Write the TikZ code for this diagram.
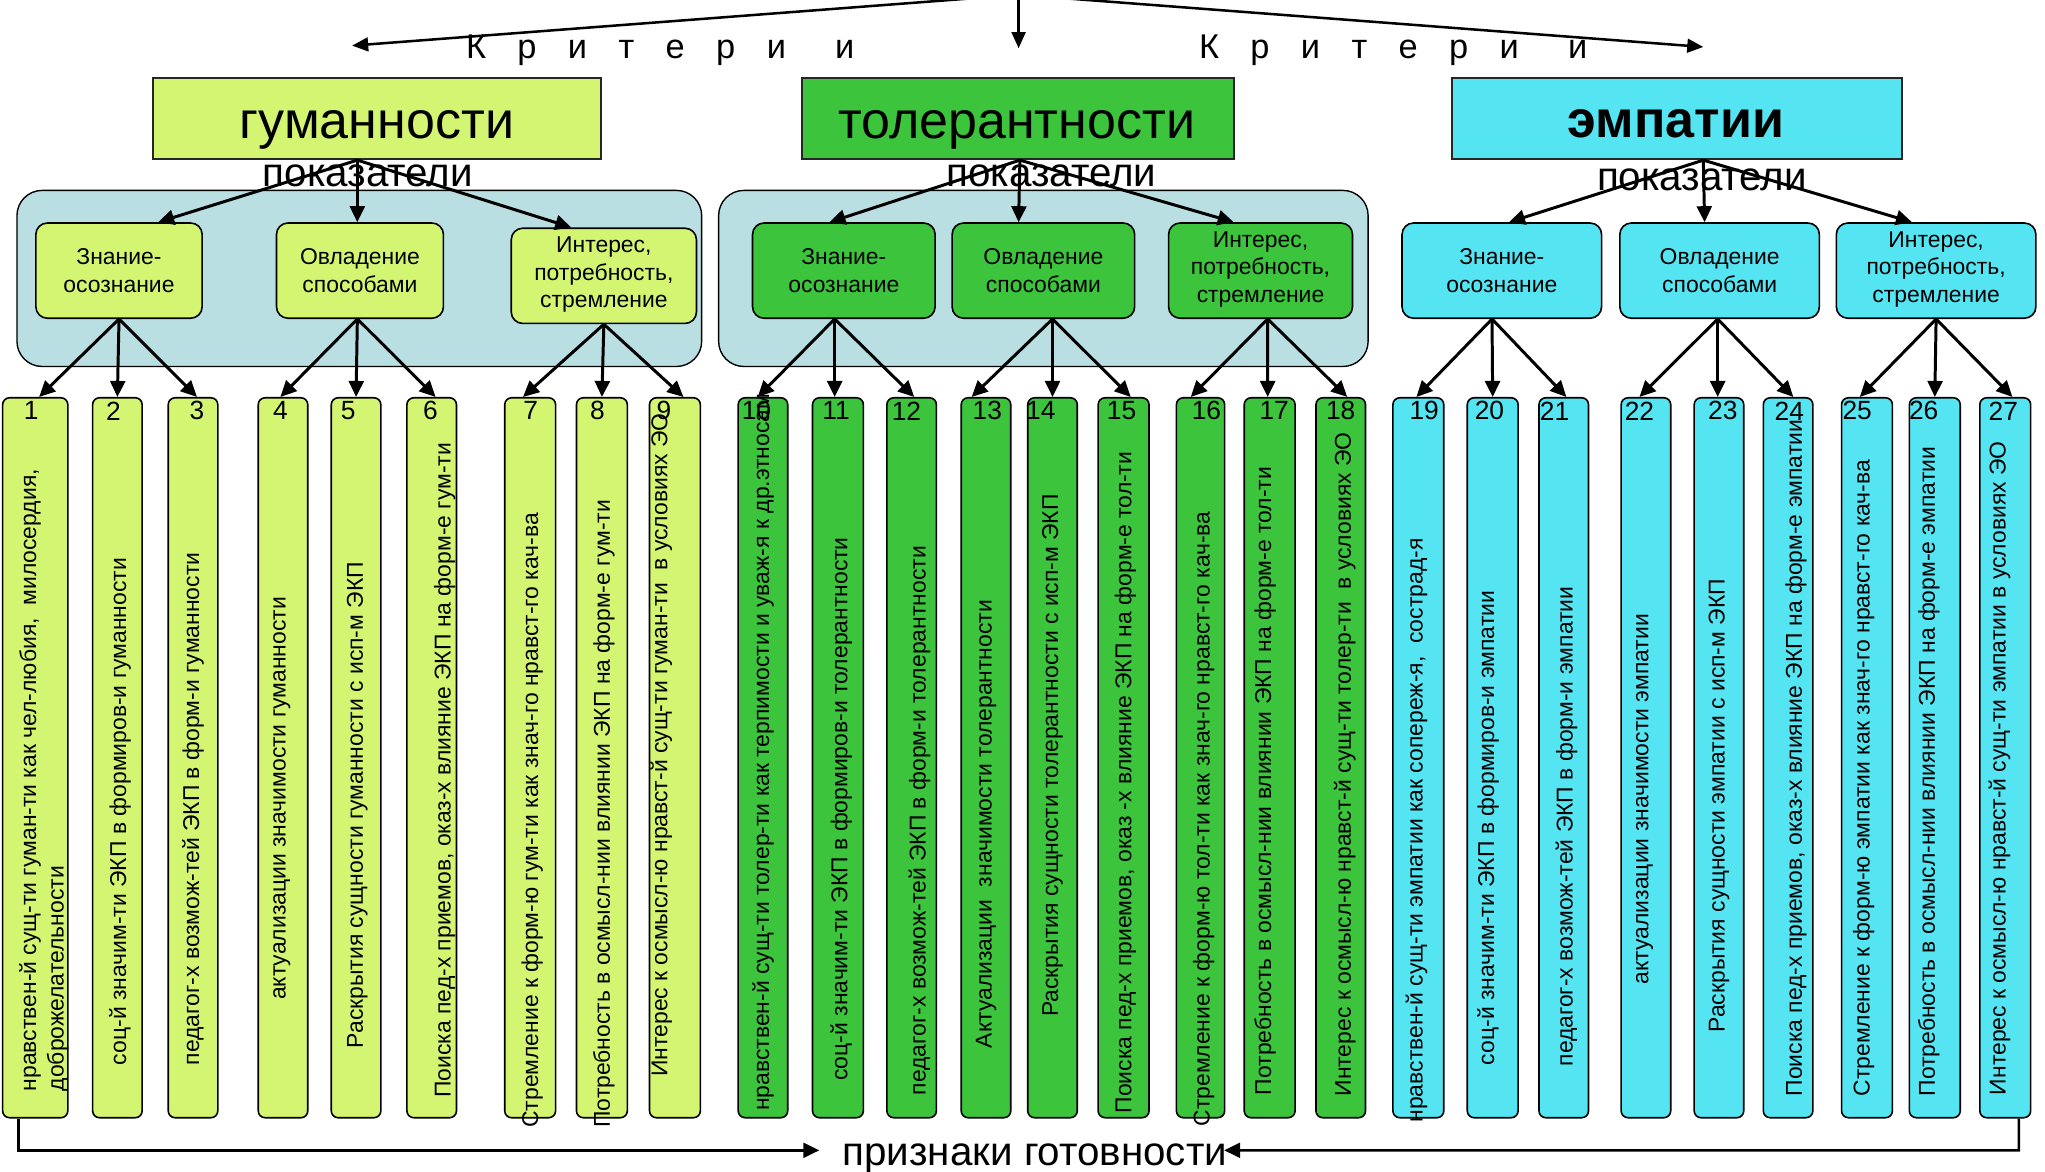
\documentclass[tikz,border=0pt]{standalone}
\usepackage{fontspec}
\setmainfont{Liberation Sans}
\usetikzlibrary{arrows.meta,calc,fit}
\definecolor{cA}{HTML}{D4F572}
\definecolor{cB}{HTML}{3CC43C}
\definecolor{cC}{HTML}{55E5F2}
\definecolor{panelC}{HTML}{B9DFE3}
\tikzset{
  crit/.style={draw=black!85, line width=0.9pt, inner sep=0},
  crittxt/.style={anchor=base, inner sep=0, font=\fontsize{22.7}{26}\selectfont},
  pokaz/.style={anchor=base, inner sep=0, font=\fontsize{17.6}{20}\selectfont},
  panel/.style={draw=black, line width=0.6pt, fill=panelC, rounded corners=11pt, inner sep=0},
  kbox/.style={draw=black, line width=0.7pt, rounded corners=5pt, inner sep=0},
  ktxt/.style={inner sep=0, align=center, font=\fontsize{10}{11.9}\selectfont},
  nbx/.style={draw=black, line width=0.7pt, rounded corners=3pt, inner sep=0},
  numlbl/.style={inner sep=0, font=\fontsize{11.5}{12}\selectfont},
  vtxt/.style={rotate=90, anchor=west, inner sep=0, align=left, font=\fontsize{10}{12}\selectfont},
  arr/.style={line width=1.3pt, -{Triangle[length=7pt,width=6.5pt]}},
  tarr/.style={line width=1.1pt, -{Triangle[length=7pt,width=6pt]}},
  barr/.style={line width=1.1pt, -{Triangle[length=7pt,width=6.5pt]}},
}
\newcommand\gp{\hspace{13.7pt}}
\newcommand\kb[5]{%
  \node[kbox, fill=#2, fit={#3}] (#1) {};
  \node[ktxt] (#1t) at ($(#1.center)+(0,#4)$) {#5};
}
\newcommand\nbox[8]{%
  \node[nbx, fill=#4, fit={(#2,305) (#3,857)}] (b#1) {};
  \node[numlbl] (n#1) at (#5,315) {#1};
  \node[vtxt] (t#1) at (#6,#7) {#8};
}
\newcommand\karr[4]{\draw[arr] ($(#1.south)+(#2,0)$) -- ($(#3.north)+(#4,0)$);}
\begin{document}
\begin{tikzpicture}[x=0.02cm,y=-0.02cm]
\useasboundingbox (0,0) rectangle (1568,898);
\fill[white] (0,0) rectangle (1568,898);

% top arrows
\coordinate (top) at (781,-4);
\coordinate (tl) at (270,35);
\coordinate (tm) at (781,37);
\coordinate (tr) at (1306,36);
\draw[tarr] (top) -- (tl);
\draw[tarr] (top) -- (tm);
\draw[tarr] (top) -- (tr);
\node[anchor=base west, inner sep=0, font=\fontsize{15}{18}\selectfont] (kr1) at (357,45)
  {К\gp р\gp и\gp т\gp е\gp р\gp и\hspace{21.5pt}и};
\node[anchor=base west, inner sep=0, font=\fontsize{15}{18}\selectfont] (kr2) at (919,45)
  {К\gp р\gp и\gp т\gp е\gp р\gp и\hspace{21.5pt}и};

% panels
\node[panel, fit={(13,146) (538,281)}] (p1) {};
\node[panel, fit={(551,146) (1049,281)}] (p2) {};

% criteria boxes
\node[crit, fill=cA, fit={(117,60) (461,122)}] (c1) {};
\node[crit, fill=cB, fit={(615,60) (946,122)}] (c2) {};
\node[crit, fill=cC, fit={(1113,60) (1458,122)}] (c3) {};
\node[crittxt] (c1t) at (289,106) {гуманности};
\node[crittxt] (c2t) at (779.5,106) {толерантности};
\node[crittxt, font=\fontsize{22.7}{26}\selectfont\bfseries] (c3t) at (1285,105.5) {эмпатии};
\node[pokaz] (pk1) at (282,143) {показатели};
\node[pokaz] (pk2) at (806,143) {показатели};
\node[pokaz] (pk3) at (1305,146) {показатели};

% indicator boxes
\kb{k11}{cA}{(27.5,171) (155,244)}{0}{Знание-\\осознание}
\kb{k12}{cA}{(212,171) (340,244)}{0}{Овладение\\способами}
\kb{k13}{cA}{(392,175) (534,248)}{-1}{Интерес,\\потребность,\\стремление}
\kb{k21}{cB}{(577,171) (717,244)}{0}{Знание-\\осознание}
\kb{k22}{cB}{(730,171) (870,244)}{0}{Овладение\\способами}
\kb{k23}{cB}{(896,171) (1037,244)}{-1}{Интерес,\\потребность,\\стремление}
\kb{k31}{cC}{(1075,171) (1228,244)}{0}{Знание-\\осознание}
\kb{k32}{cC}{(1242,171) (1395,244)}{0}{Овладение\\способами}
\kb{k33}{cC}{(1408,171) (1561,244)}{-1}{Интерес,\\потребность,\\стремление}

% sign boxes
\nbox{1}{2}{52}{cA}{24}{33.5}{837}{нравствен-й сущ-ти гуман-ти как чел-любия,~ милосердия,\\доброжелательности}
\nbox{2}{71}{109}{cA}{87}{92}{817}{соц-й значим-ти ЭКП в формиров-и гуманности}
\nbox{3}{129}{167}{cA}{151}{148}{817}{педагог-х возмож-тей ЭКП в форм-и гуманности}
\nbox{4}{198}{236}{cA}{215}{216}{767}{актуализации значимости гуманности}
\nbox{5}{254}{292}{cA}{267}{274}{804}{Раскрытия сущности гуманности с исп-м ЭКП}
\nbox{6}{312}{350}{cA}{330}{341}{842}{Поиска пед-х приемов, оказ-х влияние ЭКП на форм-е гум-ти}
\nbox{7}{387}{426}{cA}{407}{408}{865}{Стремление к форм-ю гум-ти как знач-го нравст-го кач-ва}
\nbox{8}{442}{481}{cA}{458}{463}{865}{Потребность в осмысл-нии влиянии ЭКП на форм-е гум-ти}
\nbox{9}{498}{537}{cA}{509}{507}{826}{Интерес к осмысл-ю нравст-й сущ-ти гуман-ти~ в условиях ЭО}
\nbox{10}{566}{604}{cB}{580}{585}{852}{нравствен-й сущ-ти толер-ти как терпимости и уваж-я к др.этносам}
\nbox{11}{623}{662}{cB}{641}{645}{829}{соц-й значим-ти ЭКП в формиров-и толерантности}
\nbox{12}{680}{718}{cB}{695}{705}{840}{педагог-х возмож-тей ЭКП в форм-и толерантности}
\nbox{13}{737}{775}{cB}{757}{756}{804}{Актуализации~ значимости толерантности}
\nbox{14}{788}{826}{cB}{798}{807}{780}{Раскрытия сущности толерантности с исп-м ЭКП}
\nbox{15}{842}{881}{cB}{860}{863}{854}{Поиска пед-х приемов, оказ -х влияние ЭКП на форм-е тол-ти}
\nbox{16}{902}{939}{cB}{925}{923}{864}{Стремление к форм-ю тол-ти как знач-го нравст-го кач-ва}
\nbox{17}{954}{993}{cB}{977}{970}{840}{Потребность в осмысл-нии влиянии ЭКП на форм-е тол-ти}
\nbox{18}{1009}{1047}{cB}{1028}{1031}{841}{Интерес к осмысл-ю нравст-й сущ-ти толер-ти~ в условиях ЭО}
\nbox{19}{1068}{1107}{cC}{1092}{1086}{861}{нравствен-й сущ-ти эмпатии как сопереж-я,~ сострад-я}
\nbox{20}{1125}{1164}{cC}{1142}{1141}{817}{соц-й значим-ти ЭКП в формиров-и эмпатии}
\nbox{21}{1180}{1218}{cC}{1192}{1201}{818}{педагог-х возмож-тей ЭКП в форм-и эмпатии}
\nbox{22}{1243}{1281}{cC}{1257}{1261}{755}{актуализации значимости эмпатии}
\nbox{23}{1299}{1337}{cC}{1321}{1318}{792}{Раскрытия сущности эмпатии с исп-м ЭКП}
\nbox{24}{1352}{1390}{cC}{1372}{1377}{841}{Поиска пед-х приемов, оказ-х влияние ЭКП на форм-е эмпатии}
\nbox{25}{1412}{1451}{cC}{1424}{1429}{841}{Стремление к форм-ю эмпатии как знач-го нравст-го кач-ва}
\nbox{26}{1464}{1503}{cC}{1475}{1479}{841}{Потребность в осмысл-нии влиянии ЭКП на форм-е эмпатии}
\nbox{27}{1518}{1557}{cC}{1536}{1533}{840}{Интерес к осмысл-ю нравст-й сущ-ти эмпатии в условиях ЭО}

% criteria -> indicators
\karr{c1}{-15}{k11}{30}
\karr{c1}{-15}{k12}{-2}
\karr{c1}{-15}{k13}{-25}
\karr{c2}{1.5}{k21}{-11}
\karr{c2}{1.5}{k22}{-19}
\karr{c2}{1.5}{k23}{-20.5}
\karr{c3}{20.5}{k31}{5.5}
\karr{c3}{20.5}{k32}{-11.5}
\karr{c3}{20.5}{k33}{-18.5}

% indicators -> signs
\karr{k11}{0}{b1}{3}
\karr{k11}{0}{b2}{0}
\karr{k11}{0}{b3}{3}
\karr{k12}{-2}{b4}{-2}
\karr{k12}{-2}{b5}{0}
\karr{k12}{-2}{b6}{3}
\karr{k13}{0}{b7}{-5.5}
\karr{k13}{0}{b8}{0}
\karr{k13}{0}{b9}{6.5}
\karr{k21}{-7}{b10}{-4}
\karr{k21}{-7}{b11}{-2.5}
\karr{k21}{-7}{b12}{2}
\karr{k22}{7}{b13}{-11}
\karr{k22}{7}{b14}{0}
\karr{k22}{7}{b15}{5.5}
\karr{k23}{5.5}{b16}{-7.5}
\karr{k23}{5.5}{b17}{-1.5}
\karr{k23}{5.5}{b18}{5}
\karr{k31}{-7.5}{b19}{-1.5}
\karr{k31}{-7.5}{b20}{0}
\karr{k31}{-7.5}{b21}{2}
\karr{k32}{-1.5}{b22}{-5}
\karr{k32}{-1.5}{b23}{-1}
\karr{k32}{-1.5}{b24}{4}
\karr{k33}{0}{b25}{-5.5}
\karr{k33}{0}{b26}{0}
\karr{k33}{0}{b27}{5.5}

% bottom
\node[anchor=base, inner sep=0, text height=16pt, text depth=2.4pt, font=\fontsize{17.6}{20}\selectfont] (lbl) at (793.5,894) {признаки готовности};
\coordinate (bl) at (14,882);
\coordinate (br) at (1548,882);
\draw[barr, shorten >=10pt] ($(b1.south)+(-13,0)$) -- (bl) -- (bl -| lbl.west);
\draw[barr, shorten >=-1.5pt] ($(b27.south)+(10.5,0)$) -- (br) -- (br -| lbl.east);
\end{tikzpicture}
\end{document}
